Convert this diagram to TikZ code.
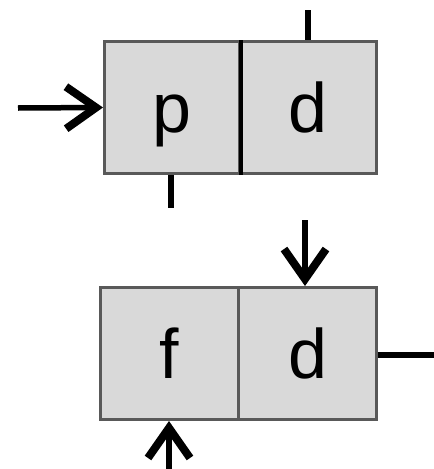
\documentclass[tikz,border=0pt]{standalone}
\usepackage{fontspec}
\setmainfont{Liberation Sans}
\usetikzlibrary{arrows.meta}
\begin{document}
\begin{tikzpicture}[x=1pt,y=-1pt,
  cell/.style={draw=black!65, line width=3pt, fill=black!15, minimum height=132pt,
    inner sep=0pt, text height=50pt, text depth=0pt,
    font=\fontsize{70}{70}\selectfont},
  wire/.style={line width=5.5pt, black},
  tip/.style={-{Straight Barb[length=30pt,width=42pt,line width=8pt]}}]
\useasboundingbox (0,0) rectangle (434,469);
% upper pair
\node[cell, minimum width=135pt, anchor=north west] (p) at (103,40) {p};
\node[cell, minimum width=137pt, anchor=north west] (d1) at (238,40) {d};
\draw[line width=4pt] (p.north east) -- (p.south east);
% lower pair
\node[cell, minimum width=138pt, anchor=north west] (f) at (99,286) {f};
\node[cell, minimum width=138pt, anchor=north west] (d2) at (237,286) {d};
% connectors
\coordinate (inL) at (18,108);
\coordinate (topT) at (308,10);
\coordinate (botT) at (171,208);
\coordinate (inD) at (305,220);
\coordinate (outR) at (434,355);
\coordinate (inU) at (169,469);
\draw[wire, tip] (inL) -- (p.west);
\draw[wire] (topT) -- (topT |- d1.north);
\draw[wire] (botT |- p.south) -- (botT);
\draw[wire, tip] (inD) -- (inD |- d2.north);
\draw[wire] (d2.east |- outR) -- (outR);
\draw[wire, tip] (inU) -- (inU |- f.south);
\end{tikzpicture}
\end{document}
